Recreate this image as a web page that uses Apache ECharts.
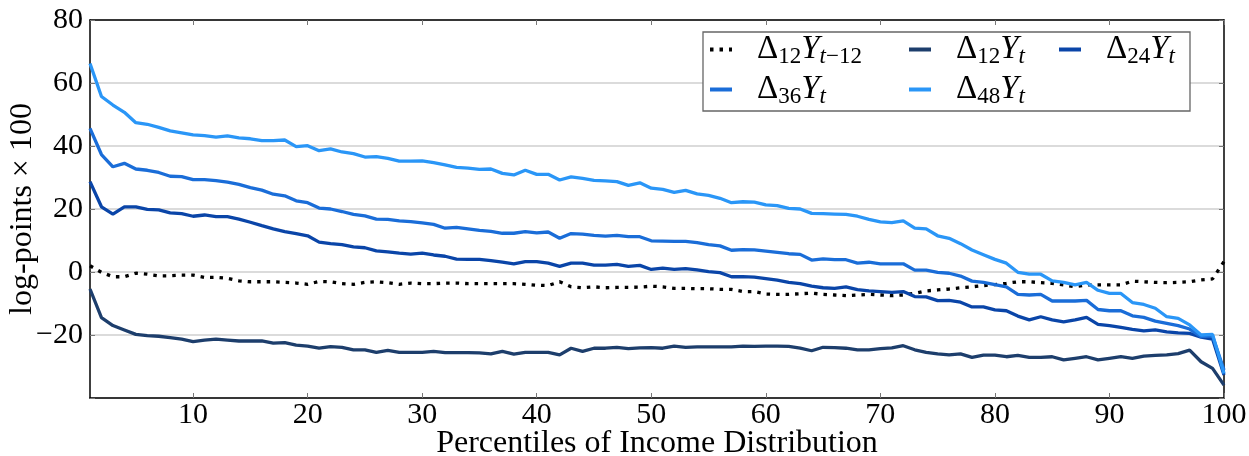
<!DOCTYPE html>
<html>
<head>
<meta charset="utf-8">
<script src="https://cdn.jsdelivr.net/npm/echarts@6/dist/echarts.min.js"></script>
<style>
  html, body { margin: 0; padding: 0; background: #fff; }
  #chart { width: 1249px; height: 456px; }
</style>
</head>
<body>
<div id="chart"></div>
<script>
// percentiles 1..100 (x axis categories)
var percentiles = Array.from({length: 100}, function (_, i) { return String(i + 1); });

// log-points x 100
var d12lag = [2.0, -0.1, -1.5, -1.5, -0.4, -0.7, -1.2, -1.2, -1.0, -1.0,
  -1.7, -1.7, -2.0, -2.8, -3.1, -3.1, -3.1, -3.3, -3.5, -3.9,
  -3.0, -3.1, -3.7, -3.9, -3.3, -3.1, -3.4, -3.9, -3.5, -3.7,
  -3.7, -3.5, -3.5, -3.7, -3.7, -3.7, -3.7, -3.7, -3.9, -4.2,
  -4.3, -3.1, -4.7, -5.0, -4.7, -5.0, -4.9, -4.9, -4.8, -4.5,
  -4.7, -5.2, -5.2, -5.3, -5.3, -5.5, -5.5, -6.2, -6.2, -7.0,
  -7.1, -7.1, -6.9, -6.7, -7.1, -7.3, -7.5, -7.3, -7.1, -7.3,
  -7.5, -7.3, -6.8, -6.0, -5.7, -5.4, -5.0, -4.7, -4.3, -4.0,
  -3.6, -3.1, -3.1, -3.4, -3.6, -4.1, -4.7, -4.1, -4.1, -4.1,
  -4.1, -2.9, -3.1, -3.3, -3.4, -3.3, -3.1, -2.5, -2.2, 3.3];

var d12 = [-5.4, -14.5, -17.0, -18.4, -19.8, -20.2, -20.4, -20.8, -21.3, -22.1,
  -21.6, -21.3, -21.6, -21.9, -21.9, -21.9, -22.6, -22.4, -23.2, -23.5,
  -24.2, -23.7, -23.9, -24.7, -24.7, -25.5, -24.9, -25.5, -25.5, -25.5,
  -25.2, -25.6, -25.6, -25.6, -25.7, -26.0, -25.2, -26.1, -25.5, -25.5,
  -25.5, -26.3, -24.2, -25.2, -24.2, -24.2, -23.9, -24.3, -24.1, -24.0,
  -24.2, -23.5, -23.9, -23.8, -23.8, -23.8, -23.8, -23.5, -23.6, -23.5,
  -23.5, -23.6, -24.2, -25.0, -23.9, -24.0, -24.2, -24.7, -24.7, -24.3,
  -24.1, -23.4, -24.7, -25.5, -26.0, -26.3, -26.0, -27.1, -26.4, -26.4,
  -26.9, -26.5, -27.1, -27.1, -26.9, -27.9, -27.4, -26.9, -27.9, -27.4,
  -26.9, -27.4, -26.7, -26.5, -26.3, -25.9, -24.8, -28.5, -30.6, -35.9];

var d24 = [28.7, 20.7, 18.4, 20.7, 20.7, 19.9, 19.7, 18.8, 18.5, 17.7,
  18.1, 17.6, 17.6, 16.8, 15.8, 14.7, 13.7, 12.8, 12.2, 11.5,
  9.5, 9.0, 8.7, 8.0, 7.7, 6.7, 6.4, 6.0, 5.7, 6.0,
  5.4, 5.0, 4.1, 4.0, 4.0, 3.6, 3.1, 2.6, 3.3, 3.3,
  2.8, 1.8, 2.8, 2.8, 2.2, 2.2, 2.4, 1.8, 2.1, 0.8,
  1.2, 0.8, 1.1, 0.7, 0.1, -0.2, -1.5, -1.5, -1.6, -2.1,
  -2.6, -3.3, -3.7, -4.5, -5.0, -5.2, -4.7, -5.6, -6.0, -6.2,
  -6.5, -6.2, -7.8, -7.9, -9.1, -9.0, -9.6, -11.1, -11.1, -12.0,
  -12.3, -14.0, -15.2, -14.2, -15.2, -15.8, -15.2, -14.4, -16.6, -17.0,
  -17.6, -18.2, -18.7, -18.4, -19.0, -19.3, -19.5, -20.7, -21.3, -32.7];

var d36 = [45.6, 37.3, 33.4, 34.5, 32.7, 32.3, 31.6, 30.4, 30.3, 29.3,
  29.3, 29.0, 28.5, 27.8, 26.8, 26.0, 24.7, 24.2, 22.6, 22.0,
  20.3, 20.0, 19.2, 18.3, 17.8, 16.8, 16.7, 16.2, 16.0, 15.6,
  15.1, 13.9, 14.2, 13.7, 13.2, 12.9, 12.3, 12.3, 12.8, 12.4,
  12.7, 10.7, 12.2, 12.0, 11.6, 11.4, 11.6, 11.2, 11.2, 9.9,
  9.8, 9.7, 9.7, 9.3, 8.7, 8.3, 6.9, 7.1, 7.0, 6.6,
  6.2, 5.8, 5.6, 3.8, 4.2, 3.9, 3.9, 2.8, 3.1, 2.6,
  2.6, 2.6, 0.6, 0.6, -0.1, -0.4, -1.3, -2.9, -3.3, -4.0,
  -4.7, -7.1, -7.3, -7.1, -9.2, -9.2, -9.2, -9.0, -11.9, -12.3,
  -12.3, -13.9, -14.4, -15.6, -16.3, -17.0, -18.1, -20.5, -20.3, -31.1];

var d48 = [66.2, 55.7, 53.0, 50.7, 47.4, 46.9, 45.9, 44.8, 44.2, 43.5,
  43.3, 42.8, 43.2, 42.6, 42.3, 41.7, 41.7, 41.9, 39.8, 40.1,
  38.5, 39.1, 38.1, 37.6, 36.5, 36.6, 36.1, 35.2, 35.2, 35.3,
  34.7, 34.0, 33.2, 33.0, 32.6, 32.7, 31.3, 30.8, 32.3, 31.0,
  31.0, 29.2, 30.2, 29.7, 29.1, 28.9, 28.7, 27.5, 28.3, 26.6,
  26.2, 25.3, 25.9, 24.8, 24.3, 23.4, 22.0, 22.3, 22.2, 21.3,
  21.1, 20.2, 20.0, 18.6, 18.5, 18.4, 18.3, 17.7, 16.7, 15.9,
  15.7, 16.2, 13.9, 13.7, 11.5, 10.7, 9.0, 7.0, 5.5, 4.0,
  2.8, -0.1, -0.7, -0.7, -2.8, -3.3, -4.1, -3.3, -5.8, -6.8,
  -6.8, -9.7, -10.3, -11.5, -14.2, -14.7, -16.8, -20.0, -19.8, -32.2];

var yTicks = [-40, -20, 0, 20, 40, 60, 80];

var FONT = 'Liberation Serif';

// legend labels as rich text (Delta_sub Y_sub)
var legendText = {
  d12lag: '{d|Δ}{s|12}{i|Y}{si|t}{s|−12}',
  d12: '{d|Δ}{s|12}{i|Y}{si|t}',
  d24: '{d|Δ}{s|24}{i|Y}{si|t}',
  d36: '{d|Δ}{s|36}{i|Y}{si|t}',
  d48: '{d|Δ}{s|48}{i|Y}{si|t}'
};

var richStyle = {
  d: { fontSize: 33, fontFamily: FONT, color: '#000', padding: [0, 0, 0, 20], verticalAlign: 'middle' },
  i: { fontSize: 33, fontFamily: FONT, fontStyle: 'italic', color: '#000', verticalAlign: 'middle' },
  s: { fontSize: 23, fontFamily: FONT, color: '#000', padding: [14, 0, 0, 0], verticalAlign: 'middle' },
  si: { fontSize: 23, fontFamily: FONT, fontStyle: 'italic', color: '#000', padding: [14, 0, 0, 0], verticalAlign: 'middle' }
};

function makeLegend(name, left, top) {
  return {
    data: [name],
    left: left,
    top: top,
    padding: 0,
    itemWidth: 22,
    itemHeight: 10,
    selectedMode: false,
    lineStyle: { width: 4 },
    itemStyle: { opacity: 0 },
    formatter: function (n) { return legendText[n]; },
    textStyle: { rich: richStyle }
  };
}

function line(name, data, color, type) {
  return {
    name: name,
    type: 'line',
    data: data,
    showSymbol: false,
    symbol: 'none',
    animation: false,
    lineStyle: { color: color, width: 3.3, type: type || 'solid', cap: 'butt' },
    itemStyle: { color: color }
  };
}

var chart = echarts.init(document.getElementById('chart'), null, { renderer: 'canvas' });

var tickEvery10 = function (index) { return (index + 1) % 10 === 0; };

var frameLine = { onZero: false, lineStyle: { color: '#000', width: 1.5 } };
var innerTick = { show: true, inside: true, length: 5, lineStyle: { color: '#777', width: 1 } };

chart.setOption({
  backgroundColor: '#fff',
  animation: false,
  grid: { left: 90, right: 25, top: 20, bottom: 58, containLabel: false, outerBoundsMode: 'none' },
  xAxis: [{
    type: 'category',
    data: percentiles,
    boundaryGap: false,
    position: 'bottom',
    name: 'Percentiles of Income Distribution',
    nameLocation: 'middle',
    nameGap: 30,
    nameMoveOverlap: false,
    nameTextStyle: { fontFamily: FONT, fontSize: 32, color: '#000' },
    axisLine: frameLine,
    axisTick: Object.assign({ interval: tickEvery10 }, innerTick),
    axisLabel: { interval: tickEvery10, margin: 2, fontFamily: FONT, fontSize: 30, color: '#000' },
    splitLine: { show: false }
  }, {
    type: 'category',
    data: percentiles,
    boundaryGap: false,
    position: 'top',
    axisLine: frameLine,
    axisTick: Object.assign({ interval: tickEvery10 }, innerTick),
    axisLabel: { show: false },
    splitLine: { show: false }
  }],
  yAxis: [{
    type: 'value',
    min: yTicks[0],
    max: yTicks[yTicks.length - 1],
    interval: 20,
    name: 'log-points × 100',
    nameLocation: 'middle',
    nameGap: 51,
    nameMoveOverlap: false,
    nameTextStyle: { fontFamily: FONT, fontSize: 32, color: '#000' },
    axisLine: Object.assign({ show: true }, frameLine),
    axisTick: innerTick,
    axisLabel: {
      margin: 7, fontFamily: FONT, fontSize: 30, color: '#000',
      formatter: function (v) {
        if (v === -40) return '';
        return v < 0 ? '−' + Math.abs(v) : String(v);
      }
    },
    splitLine: { show: true, lineStyle: { color: '#cfcfcf', width: 1.5, type: 'solid' } }
  }, {
    type: 'value',
    position: 'right',
    min: yTicks[0],
    max: yTicks[yTicks.length - 1],
    interval: 20,
    axisLine: Object.assign({ show: true }, frameLine),
    axisTick: innerTick,
    axisLabel: { show: false },
    splitLine: { show: false }
  }],
  // legend frame, drawn above the gridlines
  graphic: {
    elements: [{
      type: 'rect',
      z: 3,
      shape: { x: 703, y: 32, width: 487, height: 79 },
      style: { fill: '#fff', stroke: '#666', lineWidth: 1.3 }
    }]
  },
  legend: [
    makeLegend('d12lag', 708, 33),
    makeLegend('d12', 907, 33),
    makeLegend('d24', 1057, 33),
    makeLegend('d36', 708, 73),
    makeLegend('d48', 907, 73)
  ],
  series: [
    line('d12lag', d12lag, '#000', [3.5, 6]),
    line('d12', d12, '#1d3e6c'),
    line('d24', d24, '#0a45a8'),
    line('d36', d36, '#1a6dd8'),
    line('d48', d48, '#2a96f7')
  ]
});
</script>
</body>
</html>
